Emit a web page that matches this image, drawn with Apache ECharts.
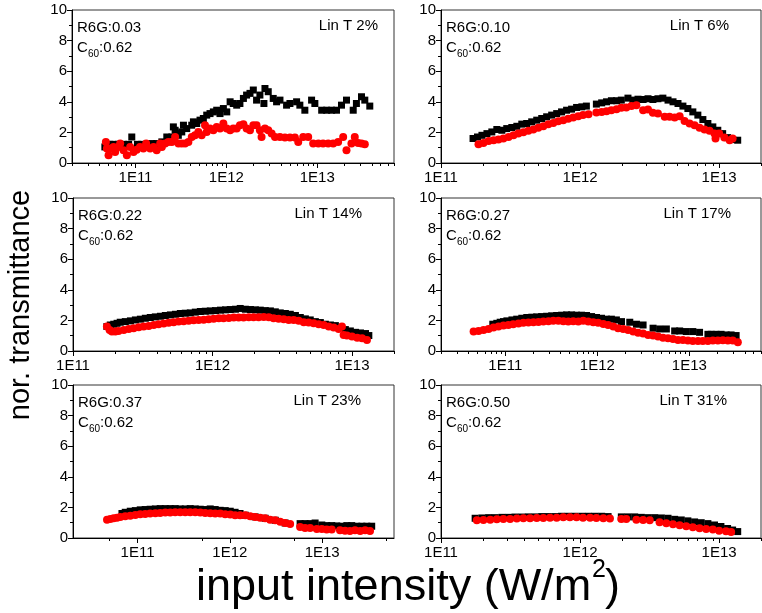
<!DOCTYPE html>
<html><head><meta charset="utf-8">
<script src="https://cdn.jsdelivr.net/npm/echarts@6/dist/echarts.min.js"></script>
<style>html,body{margin:0;padding:0;background:#fff}#c{width:762px;height:613px}</style>
</head><body><div id="c"></div>
<script>
const FONT = '"Liberation Sans", Arial, Helvetica, sans-serif';

// ---- labels ----
const r6gLabels = ['R6G:0.03','R6G:0.10','R6G:0.22','R6G:0.27','R6G:0.37','R6G:0.50'];
const c60Value = ':0.62';
const linTLabels = ['Lin T 2%','Lin T 6%','Lin T 14%','Lin T 17%','Lin T 23%','Lin T 31%'];
const xMins = [2e10, 1e11, 1e11, 2e10, 2e10, 1e11];
const xMaxs = [7e13, 2e13, 2e13, 6e13, 6e13, 2e13];
const majorTickValues = [1e11, 1e12, 1e13];
const yTickValues = [0, 2, 4, 6, 8, 10];
const yTitle = 'nor. transmittance';
const xTitle = 'input intensity (W/m';

// ---- data: [intensity W/m^2, normalized transmittance] ----
const p1Black = [[4.6e10,1.05],[5.2e10,1.22],[5.7e10,1.22],[6.5e10,1.22],[7.4e10,1.22],[8.4e10,1.22],[9.1e10,1.70],[1.05e11,1.22],[1.17e11,1.22],[1.33e11,1.22],[1.51e11,1.27],[1.71e11,1.27],[1.95e11,1.38],[2.21e11,1.70],[2.51e11,1.70],[2.84e11,1.92],[2.61e11,2.36],[2.73e11,2.14],[2.96e11,1.81],[3.23e11,2.03],[3.37e11,2.47],[3.66e11,2.25],[4.16e11,2.47],[4.34e11,2.69],[4.72e11,2.58],[5.13e11,2.80],[5.58e11,2.91],[6.08e11,3.13],[6.61e11,3.23],[7.19e11,3.34],[7.83e11,3.45],[8.51e11,3.23],[9.27e11,3.56],[1.01e12,3.34],[1.10e12,4.00],[1.19e12,3.89],[1.30e12,3.78],[1.41e12,3.89],[1.54e12,4.22],[1.67e12,4.44],[1.82e12,4.55],[1.98e12,4.77],[2.15e12,4.11],[2.34e12,4.44],[2.66e12,4.87],[2.59e12,3.89],[2.89e12,4.66],[3.28e12,4.22],[3.57e12,4.00],[3.89e12,4.11],[4.60e12,3.78],[5.01e12,3.89],[5.93e12,4.00],[6.44e12,3.78],[7.31e12,3.45],[8.67e12,4.11],[9.42e12,3.89],[1.12e13,3.45],[1.27e13,3.45],[1.44e13,3.45],[1.63e13,3.45],[1.85e13,3.78],[2.10e13,4.11],[2.49e13,3.45],[2.70e13,3.89],[3.07e13,4.33],[3.34e13,4.11],[3.79e13,3.72]];
const p1Red = [[4.72e10,1.38],[4.84e10,0.94],[5.05e10,0.5],[5.26e10,0.94],[5.73e10,1.05],[5.97e10,0.72],[6.5e10,1.05],[6.78e10,1.27],[7.38e10,0.83],[8.03e10,0.5],[8.73e10,1.05],[9.51e10,0.72],[1.03e11,0.87],[1.12e11,1.05],[1.22e11,0.94],[1.31e11,1.27],[1.45e11,0.94],[1.58e11,1.05],[1.71e11,0.83],[1.87e11,1.27],[1.95e11,1.05],[2.12e11,1.27],[2.30e11,1.38],[2.51e11,1.38],[2.73e11,1.70],[2.97e11,1.27],[3.23e11,1.27],[3.51e11,1.27],[3.82e11,1.38],[4.16e11,1.70],[4.52e11,1.81],[4.92e11,2.03],[5.35e11,1.81],[5.82e11,2.47],[6.08e11,2.03],[6.61e11,2.25],[7.19e11,2.14],[7.83e11,2.36],[8.51e11,2.25],[9.27e11,2.58],[1.01e12,2.25],[1.10e12,2.14],[1.19e12,2.25],[1.30e12,2.25],[1.41e12,2.47],[1.54e12,2.54],[1.67e12,2.25],[1.82e12,2.14],[1.98e12,2.47],[2.15e12,2.47],[2.34e12,2.14],[2.44e12,1.70],[2.66e12,2.25],[2.89e12,2.14],[3.15e12,1.92],[3.43e12,1.70],[3.89e12,1.70],[4.41e12,1.66],[5.01e12,1.66],[5.68e12,1.66],[6.18e12,1.38],[7.01e12,1.70],[7.96e12,1.70],[9.03e12,1.27],[1.03e13,1.27],[1.16e13,1.27],[1.32e13,1.27],[1.50e13,1.27],[1.70e13,1.38],[1.93e13,1.70],[2.10e13,0.83],[2.38e13,1.27],[2.59e13,1.70],[2.82e13,1.31],[3.07e13,1.27],[3.34e13,1.22]];

const p2Black = [[1.70e11,1.60],[1.83e11,1.70],[1.97e11,1.81],[2.14e11,1.92],[2.32e11,2.03],[2.52e11,2.19],[2.74e11,2.14],[2.97e11,2.25],[3.23e11,2.32],[3.51e11,2.40],[3.81e11,2.54],[4.13e11,2.58],[4.49e11,2.69],[4.88e11,2.80],[5.30e11,2.91],[5.75e11,3.02],[6.25e11,3.13],[6.79e11,3.23],[7.36e11,3.34],[8.00e11,3.45],[8.69e11,3.52],[9.44e11,3.63],[1.03e12,3.67],[1.11e12,3.72],[1.31e12,3.85],[1.43e12,3.93],[1.55e12,4.00],[1.68e12,4.07],[1.83e12,4.07],[1.98e12,4.11],[2.21e12,4.24],[2.40e12,4.11],[2.61e12,4.17],[2.84e12,4.15],[3.08e12,4.20],[3.34e12,4.15],[3.63e12,4.20],[3.94e12,4.24],[4.29e12,4.11],[4.66e12,4.00],[5.06e12,3.89],[5.49e12,3.72],[5.96e12,3.56],[6.47e12,3.34],[7.03e12,3.13],[7.64e12,2.84],[8.30e12,2.58],[9.01e12,2.36],[9.78e12,2.14],[1.06e13,1.92],[1.15e13,1.66],[1.25e13,1.53],[1.36e13,1.49]];
const p2Red = [[1.86e11,1.22],[2.02e11,1.31],[2.20e11,1.44],[2.39e11,1.49],[2.59e11,1.53],[2.81e11,1.60],[3.06e11,1.70],[3.32e11,1.81],[3.60e11,1.92],[3.91e11,2.01],[4.25e11,2.10],[4.61e11,2.19],[5.01e11,2.30],[5.44e11,2.40],[5.91e11,2.54],[6.42e11,2.62],[6.97e11,2.73],[7.57e11,2.80],[8.22e11,2.89],[8.93e11,2.97],[9.70e11,3.06],[1.05e12,3.13],[1.15e12,3.19],[1.31e12,3.30],[1.43e12,3.34],[1.55e12,3.39],[1.68e12,3.45],[1.83e12,3.52],[1.98e12,3.61],[2.15e12,3.63],[2.34e12,3.72],[2.54e12,3.78],[2.84e12,3.45],[3.08e12,3.50],[3.34e12,3.28],[3.63e12,3.23],[4.06e12,3.02],[4.40e12,3.02],[4.79e12,2.97],[5.20e12,3.06],[5.64e12,2.75],[6.13e12,2.58],[6.66e12,2.47],[7.23e12,2.30],[7.85e12,2.19],[8.53e12,2.10],[9.26e12,1.92],[9.42e12,1.60],[1.00e13,1.92],[1.09e13,1.66],[1.19e13,1.49],[1.25e13,1.60]];

const p3Black = [[1.75e11,1.60],[1.85e11,1.70],[1.96e11,1.75],[2.07e11,1.81],[2.18e11,1.88],[2.37e11,1.92],[2.58e11,1.97],[2.80e11,2.03],[3.04e11,2.08],[3.30e11,2.14],[3.58e11,2.19],[3.89e11,2.23],[4.23e11,2.27],[4.59e11,2.32],[4.99e11,2.36],[5.42e11,2.40],[5.88e11,2.45],[6.38e11,2.47],[6.93e11,2.49],[7.53e11,2.54],[8.18e11,2.58],[8.88e11,2.60],[9.64e11,2.62],[1.05e12,2.64],[1.14e12,2.67],[1.24e12,2.69],[1.34e12,2.71],[1.46e12,2.73],[1.58e12,2.78],[1.72e12,2.73],[1.87e12,2.71],[2.03e12,2.69],[2.20e12,2.67],[2.39e12,2.64],[2.60e12,2.62],[2.82e12,2.56],[3.06e12,2.49],[3.33e12,2.45],[3.61e12,2.40],[3.93e12,2.32],[4.26e12,2.19],[4.63e12,2.10],[5.02e12,2.03],[5.46e12,1.92],[5.93e12,1.86],[6.44e12,1.75],[7.00e12,1.70],[7.60e12,1.66],[8.25e12,1.53],[8.96e12,1.40],[9.73e12,1.31],[1.06e13,1.22],[1.15e13,1.18],[1.25e13,1.14],[1.32e13,1.01]];
const p3Red = [[1.75e11,1.60],[1.83e11,1.38],[1.90e11,1.27],[2.01e11,1.27],[2.12e11,1.31],[2.31e11,1.38],[2.51e11,1.44],[2.72e11,1.49],[2.96e11,1.55],[3.21e11,1.60],[3.49e11,1.64],[3.79e11,1.70],[4.11e11,1.75],[4.47e11,1.79],[4.85e11,1.84],[5.27e11,1.88],[5.72e11,1.92],[6.21e11,1.95],[6.75e11,1.97],[7.33e11,2.01],[7.96e11,2.03],[8.65e11,2.05],[9.39e11,2.08],[1.02e12,2.10],[1.11e12,2.14],[1.20e12,2.14],[1.31e12,2.16],[1.42e12,2.19],[1.54e12,2.19],[1.67e12,2.19],[1.82e12,2.21],[1.97e12,2.21],[2.14e12,2.21],[2.33e12,2.23],[2.53e12,2.21],[2.74e12,2.14],[2.98e12,2.10],[3.24e12,2.08],[3.52e12,2.03],[3.82e12,2.03],[4.15e12,1.97],[4.51e12,1.88],[4.89e12,1.86],[5.31e12,1.81],[5.77e12,1.75],[6.27e12,1.70],[6.81e12,1.60],[7.39e12,1.53],[8.02e12,1.44],[8.47e12,1.60],[8.71e12,1.05],[9.20e12,1.01],[1.00e13,0.94],[1.09e13,0.87],[1.18e13,0.83],[1.28e13,0.72]];

const p4Black = [[7.31e10,1.75],[8.08e10,1.81],[8.79e10,1.88],[9.55e10,1.92],[1.04e11,1.97],[1.18e11,2.03],[1.33e11,2.08],[1.51e11,2.14],[1.71e11,2.19],[1.94e11,2.21],[2.19e11,2.23],[2.48e11,2.25],[2.81e11,2.27],[3.19e11,2.30],[3.61e11,2.32],[4.09e11,2.34],[4.63e11,2.36],[5.25e11,2.36],[5.94e11,2.34],[6.74e11,2.34],[7.63e11,2.32],[8.65e11,2.25],[9.79e11,2.19],[1.11e12,2.14],[1.26e12,2.08],[1.42e12,2.08],[1.61e12,2.03],[1.83e12,1.92],[2.25e12,1.88],[2.66e12,1.75],[3.14e12,1.70],[4.03e12,1.49],[4.75e12,1.44],[5.62e12,1.44],[6.92e12,1.31],[7.84e12,1.31],[9.25e12,1.27],[1.09e13,1.27],[1.29e13,1.22],[1.59e13,1.09],[1.73e13,1.09],[1.95e13,1.09],[2.21e13,1.09],[2.51e13,1.05],[2.84e13,1.05],[3.22e13,1.01]];
const p4Red = [[4.52e10,1.27],[5.12e10,1.31],[5.80e10,1.38],[6.57e10,1.44],[7.44e10,1.53],[8.43e10,1.60],[9.55e10,1.66],[1.08e11,1.70],[1.22e11,1.75],[1.39e11,1.79],[1.57e11,1.84],[1.78e11,1.86],[2.02e11,1.88],[2.29e11,1.90],[2.59e11,1.92],[2.94e11,1.95],[3.32e11,1.97],[3.77e11,1.97],[4.27e11,1.95],[4.83e11,1.92],[5.47e11,1.95],[6.21e11,1.92],[7.03e11,1.97],[7.96e11,1.92],[9.02e11,1.88],[1.02e12,1.84],[1.16e12,1.77],[1.31e12,1.70],[1.49e12,1.60],[1.68e12,1.49],[1.91e12,1.44],[2.16e12,1.38],[2.45e12,1.27],[2.77e12,1.20],[3.14e12,1.14],[3.56e12,1.05],[4.03e12,1.01],[4.56e12,0.94],[5.17e12,0.87],[5.86e12,0.83],[6.64e12,0.79],[7.52e12,0.72],[8.51e12,0.72],[9.64e12,0.68],[1.09e13,0.66],[1.24e13,0.66],[1.40e13,0.66],[1.59e13,0.66],[1.80e13,0.68],[2.04e13,0.68],[2.31e13,0.70],[2.62e13,0.68],[2.96e13,0.68],[3.36e13,0.57]];

const p5Black = [[6.78e10,1.60],[7.36e10,1.68],[8.34e10,1.75],[9.46e10,1.79],[1.07e11,1.84],[1.21e11,1.86],[1.37e11,1.88],[1.56e11,1.90],[1.76e11,1.92],[2.00e11,1.92],[2.26e11,1.92],[2.56e11,1.92],[2.90e11,1.90],[3.29e11,1.90],[3.72e11,1.92],[4.22e11,1.90],[4.78e11,1.88],[5.41e11,1.86],[6.13e11,1.90],[6.94e11,1.86],[7.86e11,1.81],[8.91e11,1.79],[1.01e12,1.75],[1.14e12,1.68],[1.29e12,1.60],[1.47e12,1.49],[1.88e12,1.38],[2.41e12,1.29],[3.10e12,1.16],[3.97e12,0.98],[5.77e12,0.94],[6.53e12,0.94],[7.41e12,0.94],[8.39e12,0.98],[9.91e12,0.85],[1.12e13,0.81],[1.27e13,0.81],[1.44e13,0.79],[1.63e13,0.77],[1.85e13,0.81],[2.09e13,0.81],[2.37e13,0.77],[2.69e13,0.77],[3.04e13,0.77],[3.44e13,0.77]];
const p5Red = [[4.67e10,1.20],[5.07e10,1.25],[5.51e10,1.29],[5.99e10,1.33],[6.51e10,1.38],[7.36e10,1.42],[8.34e10,1.46],[9.46e10,1.51],[1.07e11,1.55],[1.21e11,1.57],[1.37e11,1.60],[1.56e11,1.62],[1.76e11,1.64],[2.00e11,1.66],[2.26e11,1.66],[2.56e11,1.68],[2.90e11,1.68],[3.29e11,1.68],[3.72e11,1.68],[4.22e11,1.68],[4.78e11,1.66],[5.41e11,1.64],[6.13e11,1.62],[6.94e11,1.60],[7.86e11,1.60],[8.91e11,1.55],[1.01e12,1.53],[1.14e12,1.49],[1.29e12,1.49],[1.47e12,1.49],[1.66e12,1.42],[1.88e12,1.38],[2.13e12,1.33],[2.41e12,1.29],[2.73e12,1.20],[3.10e12,1.16],[3.51e12,1.07],[3.97e12,0.98],[4.50e12,0.92],[5.77e12,0.72],[6.53e12,0.66],[7.41e12,0.66],[8.75e12,0.59],[9.91e12,0.59],[1.12e13,0.55],[1.27e13,0.55],[1.56e13,0.50],[1.77e13,0.48],[2.00e13,0.46],[2.27e13,0.50],[2.58e13,0.46],[2.92e13,0.50],[3.30e13,0.46]];

const p6Black = [[1.76e11,1.29],[1.97e11,1.31],[2.20e11,1.33],[2.45e11,1.33],[2.74e11,1.35],[3.06e11,1.35],[3.41e11,1.37],[3.81e11,1.37],[4.25e11,1.38],[4.75e11,1.38],[5.30e11,1.40],[5.91e11,1.40],[6.61e11,1.40],[7.36e11,1.42],[8.22e11,1.42],[9.18e11,1.42],[1.03e12,1.42],[1.15e12,1.42],[1.28e12,1.42],[1.43e12,1.42],[1.59e12,1.40],[1.98e12,1.38],[2.21e12,1.38],[2.47e12,1.38],[2.76e12,1.35],[3.08e12,1.33],[3.44e12,1.33],[3.84e12,1.31],[4.29e12,1.29],[4.79e12,1.22],[5.34e12,1.18],[5.96e12,1.12],[6.66e12,1.05],[7.43e12,1.00],[8.30e12,0.94],[9.26e12,0.85],[1.03e13,0.75],[1.15e13,0.62],[1.25e13,0.52],[1.36e13,0.42]];
const p6Red = [[1.81e11,1.16],[2.02e11,1.18],[2.26e11,1.20],[2.52e11,1.22],[2.81e11,1.24],[3.14e11,1.25],[3.51e11,1.27],[3.91e11,1.29],[4.37e11,1.29],[4.88e11,1.31],[5.44e11,1.31],[6.08e11,1.33],[6.79e11,1.33],[7.57e11,1.35],[8.45e11,1.35],[9.44e11,1.35],[1.05e12,1.33],[1.18e12,1.33],[1.31e12,1.31],[1.47e12,1.29],[1.64e12,1.27],[1.98e12,1.25],[2.15e12,1.24],[2.54e12,1.20],[2.84e12,1.18],[3.17e12,1.16],[3.73e12,1.03],[4.17e12,0.96],[4.66e12,0.90],[5.20e12,0.83],[5.80e12,0.77],[6.47e12,0.70],[7.23e12,0.64],[8.07e12,0.59],[9.01e12,0.55],[1.00e13,0.48],[1.12e13,0.44],[1.22e13,0.40]];

const blackSets = [p1Black, p2Black, p3Black, p4Black, p5Black, p6Black];
const redSets = [p1Red, p2Red, p3Red, p4Red, p5Red, p6Red];

// ---- layout (pixels) ----
const layout = [
  {left: 72,  top: 10,  width: 322, height: 153},
  {left: 441, top: 10,  width: 320, height: 153},
  {left: 73,  top: 198, width: 321, height: 153},
  {left: 441, top: 198, width: 320, height: 153},
  {left: 73,  top: 385, width: 321, height: 153},
  {left: 441, top: 385, width: 320, height: 153}
];
const linTInset = [16, 32, 32, 30, 33, 34];

function minorTicks(i) {
  if (i === 4) return [5e10, 5e11, 5e12, 5e13];
  const out = [];
  for (let d = 1e10; d <= 1e13; d *= 10) {
    for (let m = 2; m <= 9; m++) {
      const v = m * d;
      if (v >= xMins[i] * 0.999 && v <= xMaxs[i] * 1.001) out.push(v);
    }
  }
  return out;
}

const grid = [], xAxis = [], yAxis = [], series = [], graphic = [];
layout.forEach((g, i) => {
  grid.push({left: g.left, top: g.top, width: g.width, height: g.height,
    show: true, borderColor: '#333', borderWidth: 1, backgroundColor: 'transparent'});
  xAxis.push({
    type: 'log', logBase: 10, gridIndex: i, position: 'bottom',
    min: xMins[i], max: xMaxs[i],
    axisLine: {show: true, lineStyle: {color: '#000', width: 1}},
    axisTick: {show: true, inside: false, length: 5, customValues: majorTickValues, lineStyle: {color: '#000'}},
    axisLabel: {show: true, customValues: majorTickValues, fontSize: 15, color: '#000', fontFamily: FONT, margin: 7,
      formatter: v => '1E' + Math.round(Math.log10(v))},
    splitLine: {show: false}, minorTick: {show: false}
  });
  xAxis.push({
    type: 'log', logBase: 10, gridIndex: i, position: 'bottom',
    min: xMins[i], max: xMaxs[i],
    axisLine: {show: false},
    axisTick: {show: true, inside: false, length: 3, customValues: minorTicks(i), lineStyle: {color: '#000'}},
    axisLabel: {show: false}, splitLine: {show: false}
  });
  yAxis.push({
    type: 'value', gridIndex: i, min: 0, max: 10, interval: 2,
    axisLine: {show: true, lineStyle: {color: '#000', width: 1}},
    axisTick: {show: true, inside: false, length: 5, lineStyle: {color: '#000'}},
    minorTick: {show: true, splitNumber: 2, length: 3, lineStyle: {color: '#000'}},
    axisLabel: {fontSize: 15, color: '#000', fontFamily: FONT, margin: 5},
    splitLine: {show: false}, minorSplitLine: {show: false}
  });
  series.push({
    type: 'scatter', xAxisIndex: 2 * i, yAxisIndex: i, data: blackSets[i],
    symbol: 'rect', symbolSize: 7, itemStyle: {color: '#000', opacity: 1}, silent: true
  });
  series.push({
    type: 'scatter', xAxisIndex: 2 * i, yAxisIndex: i, data: redSets[i],
    symbol: 'circle', symbolSize: 8, itemStyle: {color: '#ff0000', opacity: 1}, silent: true
  });
  const tx = g.left + 5;
  graphic.push({type: 'text', x: tx, y: g.top + 18,
    style: {text: r6gLabels[i], fontSize: 15, fontFamily: FONT, fill: '#000', align: 'left', verticalAlign: 'middle'}});
  graphic.push({type: 'text', x: tx, y: g.top + 38,
    style: {text: 'C', fontSize: 15, fontFamily: FONT, fill: '#000', align: 'left', verticalAlign: 'middle'}});
  graphic.push({type: 'text', x: tx + 11, y: g.top + 44,
    style: {text: '60', fontSize: 10, fontFamily: FONT, fill: '#000', align: 'left', verticalAlign: 'middle'}});
  graphic.push({type: 'text', x: tx + 22, y: g.top + 38,
    style: {text: c60Value, fontSize: 15, fontFamily: FONT, fill: '#000', align: 'left', verticalAlign: 'middle'}});
  graphic.push({type: 'text', x: g.left + g.width - linTInset[i], y: g.top + 16,
    style: {text: linTLabels[i], fontSize: 15, fontFamily: FONT, fill: '#000', align: 'right', verticalAlign: 'middle'}});
});

graphic.push({type: 'text', x: 21, y: 305, rotation: Math.PI / 2,
  style: {text: yTitle, fontSize: 29, fontFamily: FONT, fill: '#000', align: 'center', verticalAlign: 'middle'}});

// x title with superscript
const XT_SIZE = 45;
const mctx = document.createElement('canvas').getContext('2d');
mctx.font = XT_SIZE + 'px "Liberation Sans", Arial, sans-serif';
const mainW = mctx.measureText(xTitle).width;
const XT_LEFT = 196;
graphic.push({type: 'text', x: XT_LEFT, y: 588,
  style: {text: xTitle, fontSize: XT_SIZE, fontFamily: FONT, fill: '#000', align: 'left', verticalAlign: 'middle'}});
graphic.push({type: 'text', x: XT_LEFT + mainW + 1, y: 570,
  style: {text: '2', fontSize: 25, fontFamily: FONT, fill: '#000', align: 'left', verticalAlign: 'middle'}});
graphic.push({type: 'text', x: XT_LEFT + mainW + 14, y: 588,
  style: {text: ')', fontSize: XT_SIZE, fontFamily: FONT, fill: '#000', align: 'left', verticalAlign: 'middle'}});

const chart = echarts.init(document.getElementById('c'), null, {renderer: 'canvas'});
chart.setOption({
  animation: false, backgroundColor: '#fff',
  grid, xAxis, yAxis, series, graphic
});
</script>
</body></html>
